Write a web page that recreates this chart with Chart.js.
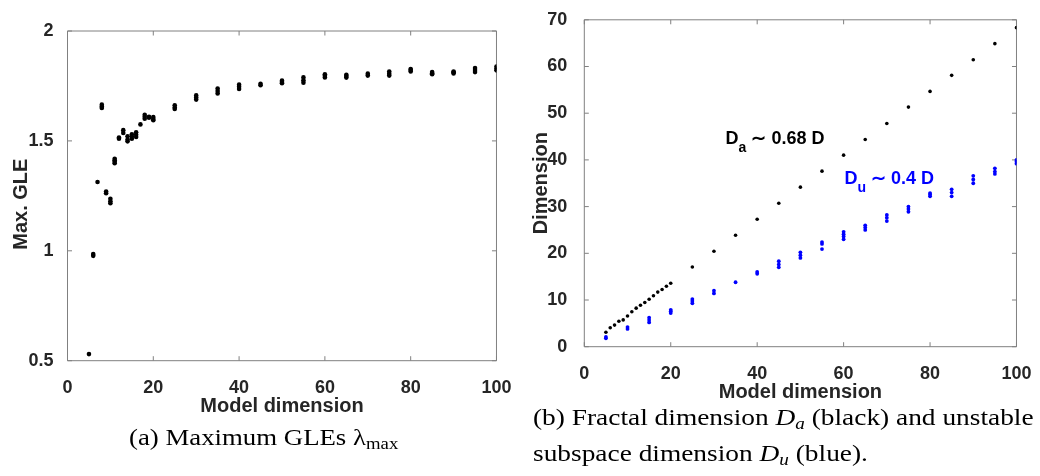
<!DOCTYPE html>
<html>
<head>
<meta charset="utf-8">
<script src="https://cdn.jsdelivr.net/npm/chart.js@4.4.1/dist/chart.umd.min.js"></script>
<style>
  html, body { margin: 0; padding: 0; background: #fff; }
  #page { position: relative; width: 1040px; height: 476px; overflow: hidden; }
  canvas { position: absolute; top: 0; }
  #glePlot { left: 0; }
  #dimPlot { left: 520px; }
  .cap { position: absolute; font-family: 'Liberation Serif', 'Times New Roman', serif; color: #000; white-space: nowrap; z-index: 2; transform-origin: 0 0; }
  #capA { left: 129px; top: 425.7px; font-size: 23px; line-height: 23px; transform: scaleX(1.165); }
  #capB { left: 533px; top: 400px; font-size: 23px; line-height: 36px; transform: scaleX(1.19); }
  .cap sub { font-size: 0.7em; vertical-align: -0.25em; line-height: 0; }
</style>
</head>
<body>
<div id="page">
  <canvas id="glePlot" width="520" height="430"></canvas>
  <canvas id="dimPlot" width="520" height="410"></canvas>
  <div class="cap" id="capA">(a) Maximum GLEs &lambda;<sub>max</sub></div>
  <div class="cap" id="capB">(b) Fractal dimension <i>D<sub>a</sub></i> (black) and unstable<br>subspace dimension <i>D<sub>u</sub></i> (blue).</div>
</div>
<script>
// model dimensions used in the GLE runs
var gleDims = [5, 6, 7, 8, 9, 10, 11, 12, 13, 14, 15, 16, 17, 18, 19, 20,
  25, 30, 35, 40, 45, 50, 55, 60, 65, 70, 75, 80, 85, 90, 95, 100]
// max GLE from each run, one list per model dimension
var gleMax = [
  [0.53], [0.977, 0.985], [1.313], [1.650, 1.657, 1.665], [1.262, 1.270],
  [1.216, 1.225, 1.237], [1.398, 1.405, 1.412, 1.419], [1.510, 1.515],
  [1.536, 1.549], [1.498, 1.506, 1.521], [1.510, 1.520, 1.530],
  [1.518, 1.528, 1.539], [1.575], [1.601, 1.610, 1.619], [1.605, 1.610],
  [1.594, 1.600, 1.609], [1.645, 1.652, 1.662], [1.688, 1.697, 1.707],
  [1.716, 1.727, 1.738], [1.736, 1.746, 1.756], [1.753, 1.760],
  [1.762, 1.768, 1.774], [1.765, 1.776, 1.789], [1.789, 1.796, 1.803],
  [1.788, 1.795, 1.801], [1.797, 1.806], [1.797, 1.806, 1.816],
  [1.816, 1.822, 1.827], [1.803, 1.808, 1.813], [1.807, 1.812, 1.816],
  [1.813, 1.822, 1.832], [1.821, 1.829, 1.838]
]

// fractal dimension D_a
var fracDims = [5, 6, 7, 8, 9, 10, 11, 12, 13, 14, 15, 16, 17, 18, 19, 20,
  25, 30, 35, 40, 45, 50, 55, 60, 65, 70, 75, 80, 85, 90, 95, 100]
var fracDim = [3.08, 4.06, 4.62, 5.46, 5.74, 6.58, 7.49, 8.26, 8.89, 9.45,
  10.15, 10.92, 11.69, 12.25, 12.95, 13.58, 17.08, 20.44, 23.87, 27.3,
  30.73, 34.16, 37.59, 41.02, 44.38, 47.81, 51.31, 54.67, 58.1, 61.46,
  64.89, 68.32]

// unstable subspace dimension D_u, one list per model dimension
var unstDims = [5, 10, 15, 20, 25, 30, 35, 40, 45, 50, 55, 60, 65, 70, 75,
  80, 85, 90, 95, 100]
var unstDim = [
  [1.8, 2.1], [3.8, 4.2], [5.2, 5.7, 6.2], [7.2, 7.6, 7.9], [9.3, 9.8, 10.2],
  [11.4, 12.0], [13.8], [15.6, 16.0], [17.0, 17.6, 18.3], [19.0, 19.6, 20.2],
  [20.9, 22.0, 22.4], [23.0, 23.6, 24.1, 24.6], [25.0, 25.5, 26.0],
  [26.9, 27.6, 28.2], [28.9, 29.5, 30.0], [32.2, 32.6, 32.9],
  [32.2, 33.0, 33.7], [35.0, 35.8, 36.6], [37.0, 37.5, 38.2], [39.2, 39.6, 40.0]
]

var xTicks = [0, 20, 40, 60, 80, 100]
var gleTicks = [0.5, 1, 1.5, 2]
var dimTicks = [0, 10, 20, 30, 40, 50, 60, 70]

function toPoints (dims, groups) {
  var pts = []
  dims.forEach(function (d, i) {
    groups[i].forEach(function (v) { pts.push({ x: d, y: v }) })
  })
  return pts
}

var axisGrey = '#808080'
var labelColor = '#262626'
Chart.defaults.font.family = "'Liberation Sans', Arial, sans-serif"
Chart.defaults.font.weight = 'bold'
Chart.defaults.color = labelColor

// closed box with short inward ticks on all four sides
var boxAxes = {
  id: 'boxAxes',
  beforeDatasetsDraw: function (chart) {
    var ctx = chart.ctx
    var a = chart.chartArea
    var x = chart.scales.x
    var y = chart.scales.y
    var len = 4.5
    ctx.save()
    ctx.strokeStyle = axisGrey
    ctx.lineWidth = 1
    ctx.beginPath()
    ctx.rect(a.left, a.top, a.right - a.left, a.bottom - a.top)
    x.ticks.forEach(function (t) {
      var px = x.getPixelForValue(t.value)
      ctx.moveTo(px, a.bottom); ctx.lineTo(px, a.bottom - len)
      ctx.moveTo(px, a.top); ctx.lineTo(px, a.top + len)
    })
    y.ticks.forEach(function (t) {
      var py = y.getPixelForValue(t.value)
      ctx.moveTo(a.left, py); ctx.lineTo(a.left + len, py)
      ctx.moveTo(a.right, py); ctx.lineTo(a.right - len, py)
    })
    ctx.stroke()
    ctx.restore()
  }
}

// fit-law labels, anchored in data units
var fitLabels = [
  { x: 32.7, y: 43.4, main: 'D', sub: 'a', rest: ' \u223C 0.68 D', color: '#000000' },
  { x: 60.2, y: 34.85, main: 'D', sub: 'u', rest: ' \u223C 0.4 D', color: '#0000ff' }
]
var fitLabelPlugin = {
  id: 'fitLabels',
  afterDatasetsDraw: function (chart) {
    var ctx = chart.ctx
    var xs = chart.scales.x
    var ys = chart.scales.y
    ctx.save()
    ctx.textBaseline = 'alphabetic'
    ctx.textAlign = 'left'
    fitLabels.forEach(function (l) {
      var px = xs.getPixelForValue(l.x)
      var py = ys.getPixelForValue(l.y)
      ctx.fillStyle = l.color
      ctx.font = "bold 18px 'Liberation Sans', Arial, sans-serif"
      ctx.fillText(l.main, px, py)
      px += ctx.measureText(l.main).width
      ctx.font = "bold 14px 'Liberation Sans', Arial, sans-serif"
      ctx.fillText(l.sub, px, py + 8)
      px += ctx.measureText(l.sub).width
      ctx.font = "bold 18px 'Liberation Sans', Arial, sans-serif"
      ctx.fillText(l.rest, px, py)
    })
    ctx.restore()
  }
}

function fixedTicks (list) {
  return function (scale) {
    scale.ticks = list.map(function (v) { return { value: v } })
  }
}

function linearAxis (opts) {
  return {
    type: 'linear',
    min: opts.min,
    max: opts.max,
    afterBuildTicks: fixedTicks(opts.ticks),
    grid: { display: false },
    border: { display: false },
    ticks: {
      padding: opts.pad,
      color: labelColor,
      font: { size: 18, weight: 'bold' },
      callback: function (v) { return String(v) }
    },
    title: {
      display: true,
      text: opts.title,
      color: labelColor,
      font: { size: 20, weight: 'bold' },
      padding: opts.titlePad
    },
    afterFit: opts.fit
  }
}

var baseOptions = {
  responsive: false,
  animation: false,
  events: [],
  plugins: { legend: { display: false }, tooltip: { enabled: false } }
}

var ctxGle = document.getElementById('glePlot').getContext('2d')
var ctxDim = document.getElementById('dimPlot').getContext('2d')

var glePlot = new Chart(ctxGle, {
  type: 'scatter',
  data: {
    datasets: [
      {
        label: 'Max. GLE',
        data: toPoints(gleDims, gleMax),
        backgroundColor: '#000000',
        borderWidth: 0,
        pointRadius: 2.3
      }
    ]
  },
  options: Object.assign({}, baseOptions, {
    layout: { padding: { left: 0, top: 31, right: 19.3, bottom: 11.5 } },
    scales: {
      x: linearAxis({ min: 0, max: 100, ticks: xTicks, pad: 8.5, title: 'Model dimension',
        titlePad: { top: 0, bottom: 0 }, fit: function (s) { s.height = 57.8 } }),
      // trailing blanks push the rotated title a little below the axis centre
      y: linearAxis({ min: 0.5, max: 2, ticks: gleTicks, pad: 6, title: 'Max. GLE   ',
        titlePad: { top: 9, bottom: 0 }, fit: function (s) { s.width = 67.5 } })
    }
  }),
  plugins: [boxAxes]
})

var dimPlot = new Chart(ctxDim, {
  type: 'scatter',
  data: {
    datasets: [
      {
        label: 'D_u',
        data: toPoints(unstDims, unstDim),
        backgroundColor: '#0000ff',
        borderWidth: 0,
        pointRadius: 1.9
      },
      {
        label: 'D_a',
        data: fracDims.map(function (d, i) { return { x: d, y: fracDim[i] } }),
        backgroundColor: '#000000',
        borderWidth: 0,
        pointRadius: 1.8
      }
    ]
  },
  options: Object.assign({}, baseOptions, {
    layout: { padding: { left: 0, top: 13.3, right: 19.7, bottom: 6 } },
    scales: {
      x: linearAxis({ min: 0, max: 100, ticks: xTicks, pad: 8.5, title: 'Model dimension',
        titlePad: { top: 0, bottom: 0 }, fit: function (s) { s.height = 57.3 } }),
      y: linearAxis({ min: 0, max: 70, ticks: dimTicks, pad: 9, title: 'Dimension',
        titlePad: { top: 9, bottom: 0 }, fit: function (s) { s.width = 64.3 } })
    }
  }),
  plugins: [boxAxes, fitLabelPlugin]
})
</script>
</body>
</html>
